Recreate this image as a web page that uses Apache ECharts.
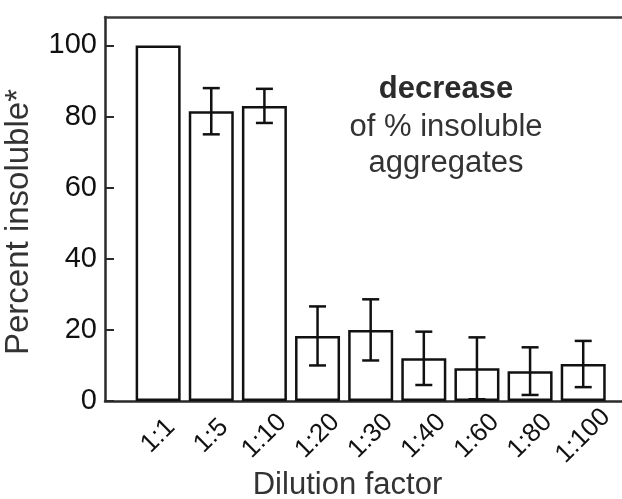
<!DOCTYPE html>
<html>
<head>
<meta charset="utf-8">
<script src="https://cdn.jsdelivr.net/npm/echarts@6/dist/echarts.min.js"></script>
<style>
  html, body { margin: 0; padding: 0; background: #fff; }
  #chart { width: 622px; height: 499px; }
</style>
</head>
<body>
<div id="chart"></div>
<script>
// Dilution series and measured insoluble fraction (mean ± error)
const categories = ['1:1', '1:5', '1:10', '1:20', '1:30', '1:40', '1:60', '1:80', '1:100'];
const percentInsoluble = [100, 81.5, 83, 18.3, 20, 12, 9.2, 8.4, 10.4];
const errors = [0, 6.5, 4.8, 8.3, 8.6, 7.5, 8.7, 6.7, 6.5];
const yTicks = [0, 20, 40, 60, 80, 100];

const FONT = 'Liberation Sans, Arial, sans-serif';

const barData = percentInsoluble.map((v, i) => [i, v]);
const errData = percentInsoluble.map((v, i) => [i, v - errors[i], v + errors[i]]);

const chart = echarts.init(document.getElementById('chart'), null, { renderer: 'canvas' });

chart.setOption({
  backgroundColor: '#ffffff',
  animation: false,
  title: {
    text: 'after incubation',
    left: 'center',
    top: -25,
    textStyle: { fontFamily: FONT, fontSize: 26, fontWeight: 'normal', color: '#cccccc' }
  },
  grid: { left: 105, right: 0, top: 17, bottom: 98, containLabel: false, outerBoundsMode: 'none' },
  xAxis: [
    {
      type: 'value',
      min: -1,
      max: 8.73,
      interval: 1,
      position: 'bottom',
      splitLine: { show: false },
      axisTick: { show: false },
      axisLine: { show: true, onZero: false, lineStyle: { color: '#2a2a2a', width: 2.5 } },
      axisLabel: {
        rotate: 45,
        margin: 35,
        align: 'center',
        verticalAlign: 'middle',
        fontFamily: FONT,
        fontSize: 26,
        color: '#111',
        showMinLabel: false,
        showMaxLabel: false,
        hideOverlap: false,
        formatter: v => (Number.isInteger(v) && v >= 0 && v < categories.length) ? categories[v] : ''
      },
      name: 'Dilution factor',
      nameLocation: 'middle',
      nameGap: 69,
      nameMoveOverlap: false,
      nameTextStyle: {
        fontFamily: FONT, fontSize: 31, color: '#333',
        verticalAlign: 'top', padding: [0, 32, 0, 0]
      }
    },
    {
      type: 'value',
      min: -1,
      max: 8.73,
      position: 'top',
      splitLine: { show: false },
      axisTick: { show: false },
      axisLabel: { show: false },
      axisLine: { show: true, onZero: false, lineStyle: { color: '#3a3a3a', width: 2.5 } }
    }
  ],
  yAxis: {
    type: 'value',
    min: 0,
    max: 108,
    interval: 20,
    splitLine: { show: false },
    axisLine: { show: true, onZero: false, lineStyle: { color: '#2a2a2a', width: 2.5 } },
    axisTick: { show: true, inside: true, length: 9, lineStyle: { color: '#2a2a2a', width: 2 } },
    axisLabel: {
      margin: 8,
      fontFamily: FONT,
      fontSize: 29,
      color: '#111',
      showMaxLabel: false,
      formatter: v => (yTicks.indexOf(v) >= 0 ? String(v) : '')
    },
    name: 'Percent insoluble*',
    nameLocation: 'middle',
    nameGap: 70,
    nameMoveOverlap: false,
    nameTextStyle: { fontFamily: FONT, fontSize: 33, color: '#333', padding: [0, 26, 0, 0] }
  },
  graphic: [
    {
      type: 'text',
      x: 446,
      y: 74,
      style: {
        text: 'decrease',
        textAlign: 'center',
        fontFamily: FONT,
        fontSize: 31,
        fontWeight: 'bold',
        fill: '#2b2b2b'
      }
    },
    {
      type: 'text',
      x: 446,
      y: 109,
      style: {
        text: 'of % insoluble\naggregates',
        textAlign: 'center',
        lineHeight: 36,
        fontFamily: FONT,
        fontSize: 31,
        fill: '#333'
      }
    }
  ],
  series: [
    {
      type: 'bar',
      xAxisIndex: 0,
      data: barData,
      barWidth: 45,
      itemStyle: { color: '#ffffff', borderColor: '#111', borderWidth: 2.5 },
      z: 2
    },
    {
      type: 'custom',
      xAxisIndex: 0,
      data: errData,
      z: 3,
      renderItem: function (params, api) {
        const x = api.value(0);
        const lo = api.value(1);
        const hi = api.value(2);
        if (hi - lo <= 0) return null;
        const pLo = api.coord([x, lo]);
        const pHi = api.coord([x, hi]);
        const half = 8.5;
        const style = { stroke: '#111', lineWidth: 2.5 };
        return {
          type: 'group',
          children: [
            { type: 'line', shape: { x1: pLo[0], y1: pLo[1], x2: pHi[0], y2: pHi[1] }, style },
            { type: 'line', shape: { x1: pHi[0] - half, y1: pHi[1], x2: pHi[0] + half, y2: pHi[1] }, style },
            { type: 'line', shape: { x1: pLo[0] - half, y1: pLo[1], x2: pLo[0] + half, y2: pLo[1] }, style }
          ]
        };
      }
    }
  ]
});
</script>
</body>
</html>
